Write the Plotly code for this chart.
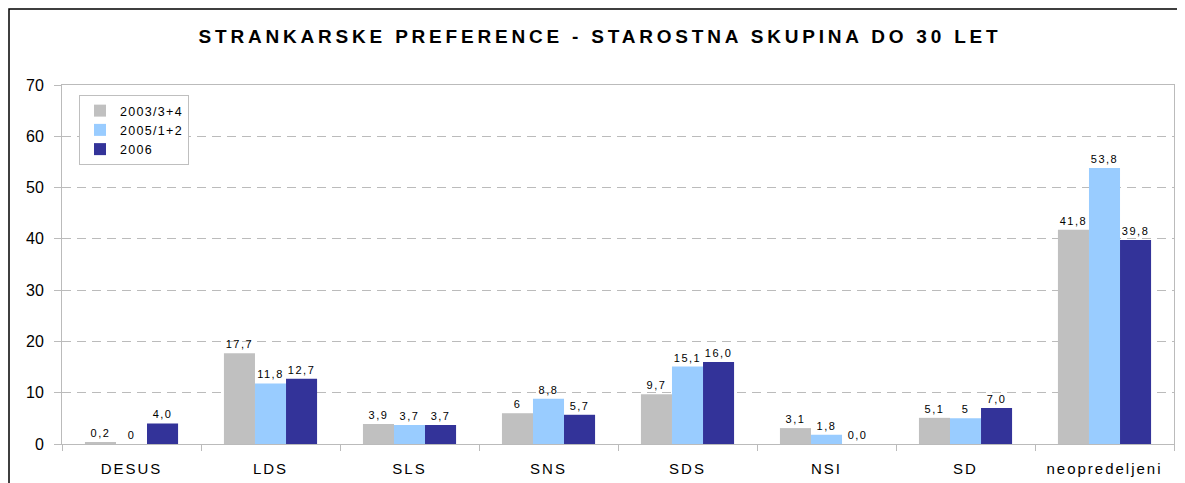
import plotly.graph_objects as go

categories = ["DESUS", "LDS", "SLS", "SNS", "SDS", "NSI", "SD", "neopredeljeni"]
series_names = ["2003/3+4", "2005/1+2", "2006"]
values_2003 = [0.2, 17.7, 3.9, 6, 9.7, 3.1, 5.1, 41.8]
values_2005 = [0, 11.8, 3.7, 8.8, 15.1, 1.8, 5, 53.8]
values_2006 = [4.0, 12.7, 3.7, 5.7, 16.0, 0.0, 7.0, 39.8]
labels_2003 = ["0,2", "17,7", "3,9", "6", "9,7", "3,1", "5,1", "41,8"]
labels_2005 = ["0", "11,8", "3,7", "8,8", "15,1", "1,8", "5", "53,8"]
labels_2006 = ["4,0", "12,7", "3,7", "5,7", "16,0", "0,0", "7,0", "39,8"]
colors = ["#C0C0C0", "#99CCFF", "#333399"]
title_text = "STRANKARSKE PREFERENCE - STAROSTNA SKUPINA DO 30 LET"
y_ticks = [0, 10, 20, 30, 40, 50, 60, 70]

FONT = "Liberation Sans, Arial, sans-serif"


def ls(s, px):
    return f'<span style="letter-spacing:{px}px">{s}</span>'


fig = go.Figure()
for name, vals, labs, col in zip(series_names,
                                 [values_2003, values_2005, values_2006],
                                 [labels_2003, labels_2005, labels_2006],
                                 colors):
    fig.add_trace(go.Bar(
        x=categories, y=vals, name=ls(name, 1.3),
        marker=dict(color=col, line=dict(width=0)),
        text=[ls(t, 1.5) for t in labs], textposition="outside",
        textfont=dict(family=FONT, size=11, color="black"),
        cliponaxis=False,
    ))

# the page body adds an 8px offset; target pixel coords are absolute in window
OFF = 8
W, H = 1185 - OFF, 483 - OFF
PL, PR, PT, PB = 62, 1174, 85, 444  # plot area in window pixels
L, T = PL - OFF, PT - OFF
R = W - (PR - OFF)
B = H - (PB - OFF)
pw, ph = PR - PL, PB - PT


def px_x(x):
    return (x - PL) / pw


def px_y(y):
    return (PB - y) / ph


GRID = "#BBBBBB"

fig.update_layout(
    width=W, height=H,
    margin=dict(l=L, r=R, t=T, b=B, pad=0, autoexpand=False),
    paper_bgcolor="white", plot_bgcolor="white",
    barmode="group", bargap=0.33, bargroupgap=0,
    font=dict(family=FONT, color="black"),
    title=dict(text="<b>" + ls(title_text, 3.8) + "</b>", x=(600 - OFF) / W, xanchor="center",
               y=1 - (36 - OFF) / H, yanchor="middle", yref="container",
               font=dict(family=FONT, size=19, color="black")),
    legend=dict(x=px_x(79), y=px_y(95), xanchor="left", yanchor="top",
                bordercolor="#BFBFBF", borderwidth=1, bgcolor="white",
                font=dict(family=FONT, size=12.5, color="black"),
                itemwidth=30, tracegroupgap=0),
    showlegend=True,
)
fig.update_xaxes(
    type="category", tickson="boundaries", ticks="outside", ticklen=6,
    tickcolor=GRID, showline=True, linecolor=GRID, linewidth=1,
    mirror=True, showgrid=False, ticklabelstandoff=11, automargin=False,
    tickvals=categories, ticktext=[ls(c, 2) for c in categories],
    tickfont=dict(family=FONT, size=15, color="black"),
)
fig.update_yaxes(
    range=[0, 70], tickvals=y_ticks, ticks="outside", ticklen=7,
    tickcolor=GRID, showline=True, linecolor=GRID, linewidth=1,
    mirror=True, showgrid=True, gridcolor=GRID, griddash="9px,6px",
    gridwidth=1, zeroline=False, ticklabelstandoff=7, automargin=False,
    tickfont=dict(family=FONT, size=16, color="black"),
)
# outer chart border (top and left visible)
fig.add_shape(type="rect", xref="paper", yref="paper",
              x0=px_x(9), x1=px_x(1210), y0=px_y(510), y1=px_y(9),
              line=dict(color="black", width=1.5), fillcolor="rgba(0,0,0,0)",
              layer="above")

fig.write_html("out.html")
